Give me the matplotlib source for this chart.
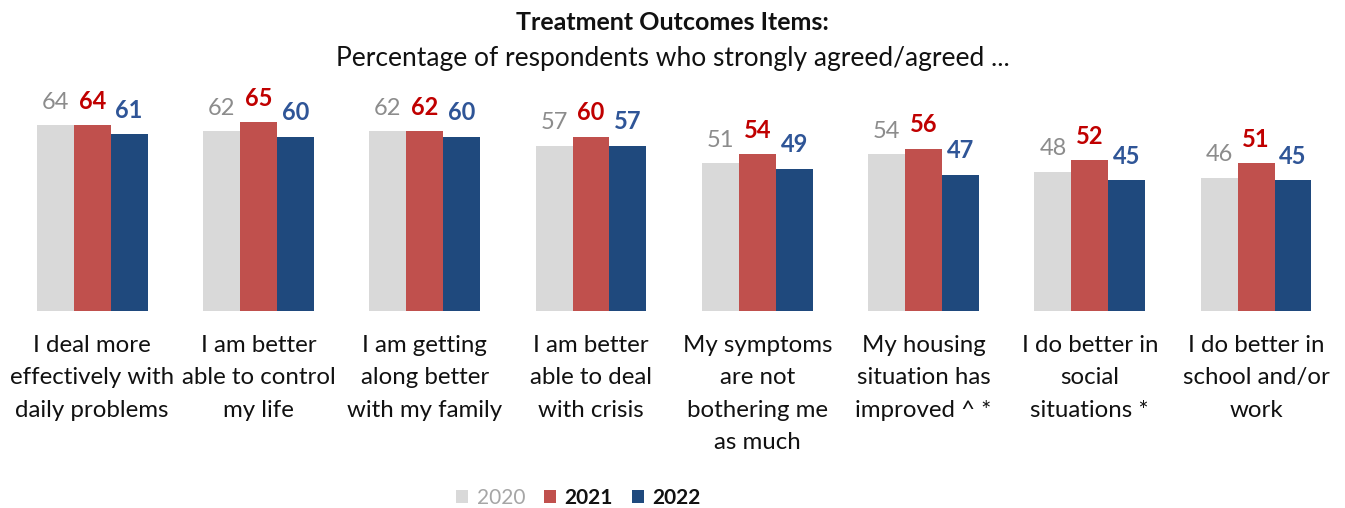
import numpy as np
import matplotlib.pyplot as plt
from matplotlib.patches import Patch

plt.rcParams['font.family'] = ['Lato', 'DejaVu Sans']

items = [
    "I deal more\neffectively with\ndaily problems",
    "I am better\nable to control\nmy life",
    "I am getting\nalong better\nwith my family",
    "I am better\nable to deal\nwith crisis",
    "My symptoms\nare not\nbothering me\nas much",
    "My housing\nsituation has\nimproved ^ *",
    "I do better in\nsocial\nsituations *",
    "I do better in\nschool and/or\nwork",
]
years = ["2020", "2021", "2022"]
pct_2020 = [64, 62, 62, 57, 51, 54, 48, 46]
pct_2021 = [64, 65, 62, 60, 54, 56, 52, 51]
pct_2022 = [61, 60, 60, 57, 49, 47, 45, 45]

bar_colors = ["#D9D9D9", "#C0504D", "#1F497D"]
label_colors = ["#8C8C8C", "#C00000", "#2F5597"]
label_weights = ["normal", "bold", "bold"]

fig = plt.figure(figsize=(13.45, 5.08), dpi=100)
ax = fig.add_axes([0.0067, 0.388, 0.989, 0.428])

x = np.arange(len(items))
w = 0.222
for i, vals in enumerate([pct_2020, pct_2021, pct_2022]):
    pos = x + (i - 1) * w
    ax.bar(pos, vals, width=w, color=bar_colors[i], edgecolor="none")
    for px, v in zip(pos, vals):
        ax.annotate(str(v), (px, v), xytext=(0, 9), textcoords="offset points",
                    ha="center", va="bottom", fontsize=17,
                    color=label_colors[i], fontweight=label_weights[i],
                    annotation_clip=False)

ax.set_xlim(-0.5, len(items) - 0.5)
ax.set_ylim(0, 75)
ax.set_xticks(x)
ax.set_xticklabels(items, fontsize=17.3, color="#111111", linespacing=1.68, va="top")
ax.tick_params(axis="x", length=0, pad=17)
ax.set_yticks([])
for s in ax.spines.values():
    s.set_visible(False)

fig.text(0.5, 0.955, "Treatment Outcomes Items:", ha="center", va="center",
         fontsize=18, fontweight="bold", color="#111111")
fig.text(0.5, 0.885, "Percentage of respondents who strongly agreed/agreed ...",
         ha="center", va="center", fontsize=19, color="#111111")

handles = [Patch(facecolor=c, edgecolor="none") for c in bar_colors]
leg = fig.legend(handles, years, loc="center", bbox_to_anchor=(0.43, 0.02),
                 ncol=3, frameon=False, fontsize=15, handlelength=0.6,
                 handleheight=0.6, handletextpad=0.4, columnspacing=0.9)
for t, c, wt in zip(leg.get_texts(), ["#A6A6A6", "#111111", "#111111"],
                    ["normal", "bold", "bold"]):
    t.set_color(c)
    t.set_fontweight(wt)

fig.savefig("out.png", dpi=100)
